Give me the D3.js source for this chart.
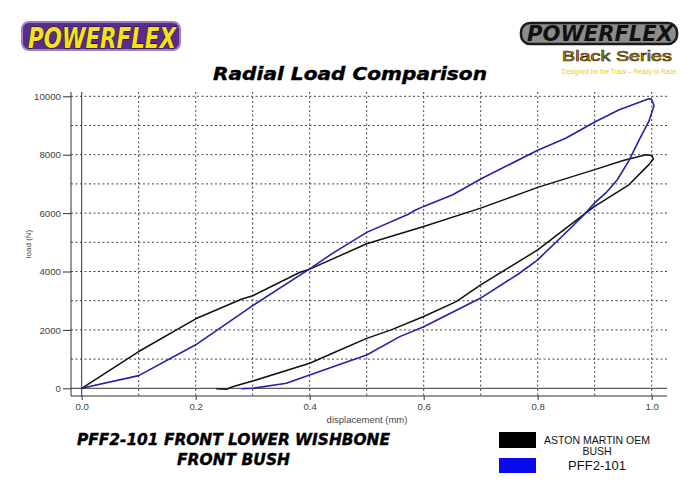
<!DOCTYPE html>
<html>
<head>
<meta charset="utf-8">
<script src="https://cdn.jsdelivr.net/npm/d3@7"></script>
<style>
  html, body { margin: 0; padding: 0; background: #fff; }
  svg { display: block; }
</style>
</head>
<body>
<svg id="chart" width="700" height="495"></svg>
<script>
// ---------- data ----------
const seriesNames = ["ASTON MARTIN OEM BUSH", "PFF2-101"];
const seriesColors = ["#111111", "#2222aa"];
const legendColors = ["#000000", "#0a0aee"];

// Aston Martin OEM bush hysteresis loop (displacement mm, load N)
const amDisp = [0, 0.1, 0.2, 0.28, 0.3, 0.382, 0.4, 0.5, 0.6, 0.7, 0.8, 0.9, 0.95, 0.99, 1.0, 1.003, 0.995, 0.96, 0.9, 0.88, 0.8, 0.7, 0.657, 0.6, 0.543, 0.5, 0.44, 0.4, 0.3, 0.266, 0.254, 0.236];
const amLoad = [0, 1260, 2380, 3050, 3170, 3966, 4080, 4950, 5540, 6170, 6880, 7490, 7800, 8000, 7970, 7850, 7660, 6970, 6230, 5940, 4740, 3540, 2970, 2460, 2000, 1710, 1200, 860, 250, 60, -30, -15];

// PFF2-101 hysteresis loop
const pffDisp = [0, 0.1, 0.2, 0.3, 0.4, 0.44, 0.5, 0.575, 0.584, 0.6, 0.651, 0.7, 0.8, 0.85, 0.9, 0.943, 0.995, 1.0, 1.004, 0.995, 0.978, 0.96, 0.94, 0.92, 0.9, 0.881, 0.861, 0.8, 0.768, 0.7, 0.6, 0.558, 0.5, 0.441, 0.4, 0.359, 0.3, 0.28];
const pffLoad = [0, 435, 1490, 2830, 4090, 4620, 5340, 5980, 6090, 6230, 6630, 7170, 8150, 8570, 9120, 9540, 9920, 9890, 9680, 9140, 8510, 7800, 7150, 6700, 6350, 5940, 5550, 4400, 3940, 3090, 2110, 1770, 1140, 740, 458, 172, 0, -15];

const xTicks = [0, 0.2, 0.4, 0.6, 0.8, 1.0];
const xGrid = [0.1, 0.2, 0.3, 0.4, 0.5, 0.6, 0.7, 0.8, 0.9, 1.0];
const yTicks = [0, 2000, 4000, 6000, 8000, 10000];
const yGrid = [1000, 2000, 3000, 4000, 5000, 6000, 7000, 8000, 9000, 10000];

// ---------- layout ----------
const svg = d3.select("#chart");
const frame = { left: 71, right: 667, top: 92, bottom: 396 };
const x = d3.scaleLinear().domain([0, 1]).range([81.7, 651.7]);
const y = d3.scaleLinear().domain([0, 10000]).range([388.3, 96.3]);

// ---------- logos ----------
const lg = svg.append("g");
lg.append("rect").attr("x", 22).attr("y", 22).attr("width", 158).attr("height", 28).attr("rx", 7)
  .attr("fill", "#5b2b8f").attr("stroke", "#9b82c4").attr("stroke-width", 2);
lg.append("text").attr("x", 28).attr("y", 48)
  .attr("textLength", 148).attr("lengthAdjust", "spacingAndGlyphs")
  .style("font-family", "'DejaVu Sans', sans-serif").style("font-weight", "bold").style("font-style", "italic")
  .style("font-size", "29px").attr("fill", "#f6e219").attr("stroke", "#111").attr("stroke-width", 1.2)
  .attr("paint-order", "stroke").text("POWERFLEX");

const rg = svg.append("g");
rg.append("rect").attr("x", 521).attr("y", 23).attr("width", 156).attr("height", 21).attr("rx", 9)
  .attr("fill", "#8c8c8c").attr("stroke", "#1a1a1a").attr("stroke-width", 2.5);
rg.append("text").attr("x", 527).attr("y", 40.5)
  .attr("textLength", 146).attr("lengthAdjust", "spacingAndGlyphs")
  .style("font-family", "'DejaVu Sans', sans-serif").style("font-weight", "bold").style("font-style", "italic")
  .style("font-size", "21px").attr("fill", "#111").text("POWERFLEX");
rg.append("text").attr("x", 562).attr("y", 61)
  .attr("textLength", 110).attr("lengthAdjust", "spacingAndGlyphs")
  .style("font-family", "'Liberation Sans', Arial, sans-serif")
  .style("font-size", "15.5px").attr("fill", "#dca21f").attr("stroke", "#3a2a00").attr("stroke-width", 0.7)
  .text("Black Series");
rg.append("text").attr("x", 562).attr("y", 73.5)
  .attr("textLength", 114).attr("lengthAdjust", "spacingAndGlyphs")
  .style("font-family", "'Liberation Sans', Arial, sans-serif")
  .style("font-size", "7px").attr("fill", "#e2cf1c").text("Designed for the Track \u2013 Ready to Race");

// ---------- title ----------
svg.append("text").attr("x", 213).attr("y", 80)
  .attr("textLength", 274).attr("lengthAdjust", "spacingAndGlyphs")
  .style("font-family", "'DejaVu Sans', sans-serif").style("font-weight", "bold").style("font-style", "italic")
  .style("font-size", "17.5px").attr("fill", "#000").attr("stroke", "#000").attr("stroke-width", 0.4)
  .text("Radial Load Comparison");

// ---------- grid ----------
const grid = svg.append("g");
grid.selectAll("line.vg").data(xGrid).join("line").attr("class", "vg")
  .attr("x1", d => x(d)).attr("x2", d => x(d)).attr("y1", frame.top).attr("y2", frame.bottom)
  .attr("stroke", "#444").attr("stroke-width", 1).attr("stroke-dasharray", "2,2.5");
grid.selectAll("line.hg").data(yGrid).join("line").attr("class", "hg")
  .attr("x1", frame.left).attr("x2", frame.right).attr("y1", d => y(d)).attr("y2", d => y(d))
  .attr("stroke", "#444").attr("stroke-width", 1).attr("stroke-dasharray", "2,2.5");
// zero lines
grid.append("line").attr("x1", x(0)).attr("x2", x(0)).attr("y1", frame.top).attr("y2", frame.bottom)
  .attr("stroke", "#333").attr("stroke-width", 1);
grid.append("line").attr("x1", frame.left).attr("x2", frame.right).attr("y1", y(0)).attr("y2", y(0))
  .attr("stroke", "#333").attr("stroke-width", 1);
// frame
grid.append("line").attr("x1", frame.left).attr("x2", frame.left).attr("y1", frame.top).attr("y2", frame.bottom)
  .attr("stroke", "#333").attr("stroke-width", 1);
grid.append("line").attr("x1", frame.left).attr("x2", frame.right).attr("y1", frame.bottom).attr("y2", frame.bottom)
  .attr("stroke", "#333").attr("stroke-width", 1);

// ---------- axes ----------
const yAxis = svg.append("g").attr("transform", `translate(${frame.left},0)`)
  .call(d3.axisLeft(y).tickValues(yTicks).tickSize(8).tickPadding(2).tickFormat(d3.format("d")));
yAxis.select(".domain").remove();
yAxis.selectAll("line").attr("stroke", "#333");
yAxis.selectAll("text").style("font-family", "'Liberation Sans', Arial, sans-serif")
  .style("font-size", "9.7px").attr("fill", "#444");

const xAxis = svg.append("g").attr("transform", `translate(0,${frame.bottom})`)
  .call(d3.axisBottom(x).tickValues(xTicks).tickSize(4).tickPadding(3).tickFormat(d3.format(".1f")));
xAxis.select(".domain").remove();
xAxis.selectAll("line").attr("stroke", "#333");
xAxis.selectAll("text").style("font-family", "'Liberation Sans', Arial, sans-serif")
  .style("font-size", "9.7px").attr("fill", "#444");

svg.append("text").attr("x", 367).attr("y", 423).attr("text-anchor", "middle")
  .style("font-family", "'Liberation Sans', Arial, sans-serif").style("font-size", "9.5px").attr("fill", "#444")
  .text("displacement (mm)");
svg.append("text").attr("transform", "translate(31,244) rotate(-90)").attr("text-anchor", "middle")
  .style("font-family", "'Liberation Sans', Arial, sans-serif").style("font-size", "8px").attr("fill", "#444")
  .text("load (N)");

// ---------- curves ----------
const line = d3.line().x(d => x(d[0])).y(d => y(d[1]));
const amPts = amDisp.map((d, i) => [d, amLoad[i]]);
const pffPts = pffDisp.map((d, i) => [d, pffLoad[i]]);
svg.append("path").datum(amPts).attr("d", line).attr("fill", "none")
  .attr("stroke", seriesColors[0]).attr("stroke-width", 1.5).attr("stroke-linejoin", "round");
svg.append("path").datum(pffPts).attr("d", line).attr("fill", "none")
  .attr("stroke", seriesColors[1]).attr("stroke-width", 1.6).attr("stroke-linejoin", "round");

// ---------- caption ----------
const cap = svg.append("g").style("font-family", "'DejaVu Sans', sans-serif").style("font-weight", "bold")
  .style("font-style", "italic").style("font-size", "16px").attr("fill", "#000")
  .attr("stroke", "#000").attr("stroke-width", 0.4);
cap.append("text").attr("x", 77).attr("y", 445).attr("textLength", 313).attr("lengthAdjust", "spacingAndGlyphs")
  .text("PFF2-101 FRONT LOWER WISHBONE");
cap.append("text").attr("x", 177).attr("y", 465).attr("textLength", 113).attr("lengthAdjust", "spacingAndGlyphs")
  .text("FRONT BUSH");

// ---------- legend ----------
const leg = svg.append("g");
leg.append("rect").attr("x", 499).attr("y", 432).attr("width", 37).attr("height", 16).attr("fill", legendColors[0]);
leg.append("rect").attr("x", 499).attr("y", 458).attr("width", 37).attr("height", 15).attr("fill", legendColors[1]);
const legFont = "'Liberation Sans', Arial, sans-serif";
leg.append("text").attr("x", 597).attr("y", 444).attr("text-anchor", "middle")
  .style("font-family", legFont).style("font-size", "10.5px").attr("fill", "#111").text("ASTON MARTIN OEM");
leg.append("text").attr("x", 597).attr("y", 455).attr("text-anchor", "middle")
  .style("font-family", legFont).style("font-size", "10.5px").attr("fill", "#111").text("BUSH");
leg.append("text").attr("x", 597).attr("y", 470).attr("text-anchor", "middle")
  .style("font-family", legFont).style("font-size", "13px").attr("fill", "#111").text(seriesNames[1]);
</script>
</body>
</html>
